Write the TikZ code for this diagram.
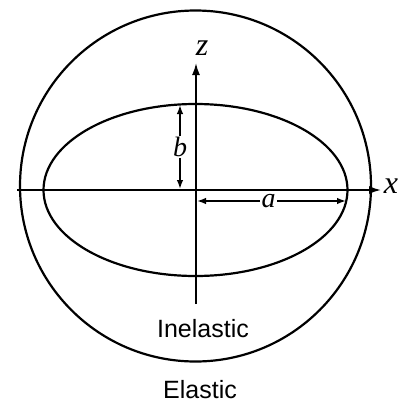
\documentclass[tikz,border=0pt]{standalone}
\usepackage{fontspec}
\setmainfont{Liberation Sans}
\newfontfamily\lblfont{Liberation Serif}
\usetikzlibrary{arrows.meta}
\tikzset{
  outline/.style={line width=2.2pt},
  axis/.style={line width=1.8pt,-{Latex[length=12pt,width=8pt]}},
  dimarrow/.style={line width=1.5pt,{Latex[length=9pt,width=6.5pt]}-{Latex[length=9pt,width=6.5pt]}},
  axlabel/.style={font=\lblfont\itshape\fontsize{32}{32}\selectfont,inner sep=0pt},
  dimlabel/.style={font=\lblfont\itshape\fontsize{28}{28}\selectfont,fill=white,inner sep=1.5pt},
  region/.style={font=\fontsize{25}{25}\selectfont,inner sep=0pt}
}
\begin{document}
\begin{tikzpicture}[x=1pt,y=-1pt]
\useasboundingbox (0,0) rectangle (401,407);
\draw[outline] (195.5,186) circle [radius=175.5];
\draw[outline] (195.5,190) ellipse [x radius=152, y radius=86];
\coordinate (xs) at (17,190);
\coordinate (xe) at (381,190);
\coordinate (zs) at (196,304);
\coordinate (ze) at (196,63);
\draw[axis] (xs) -- (xe);
\draw[axis] (zs) -- (ze);
\node[axlabel] (xl) at (391,186) {x};
\node[axlabel] (zl) at (202,48) {z};
\coordinate (btop) at (180,105);
\coordinate (bbot) at (180,189);
\draw[dimarrow] (btop) -- node[dimlabel] (bl) {b} (bbot);
\coordinate (al) at (197,201);
\coordinate (ar) at (346,201);
\draw[dimarrow] (al) -- node[dimlabel,pos=0.48] (alab) {a} (ar);
\node[region] (inel) at (203,329) {Inelastic};
\node[region] (el) at (200,390) {Elastic};
\end{tikzpicture}
\end{document}
